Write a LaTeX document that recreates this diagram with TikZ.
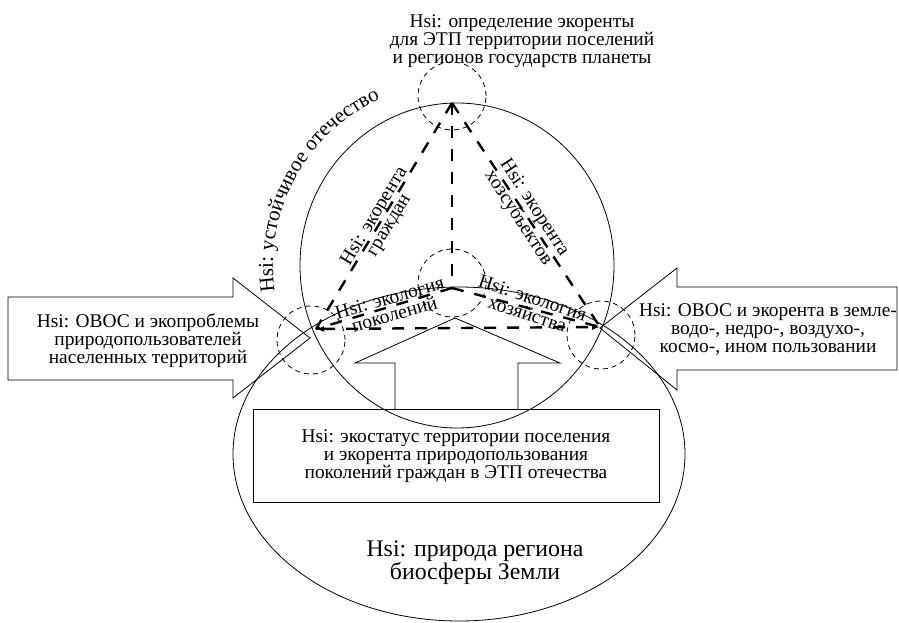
\documentclass[tikz,border=0pt]{standalone}
\usepackage{fontspec}
\setmainfont{Liberation Serif}
\usetikzlibrary{shapes.geometric,arrows.meta,decorations.text}
\begin{document}
\begin{tikzpicture}[x=1pt,y=1pt,
  thinline/.style={line width=0.8pt},
  txt/.style={align=center,inner sep=0pt,font=\fontsize{19.4}{18}\selectfont},
  bigtxt/.style={align=center,inner sep=0pt,font=\fontsize{23.8}{20.5}\selectfont},
  rtxt/.style={align=center,inner sep=0pt,font=\fontsize{19.5}{17}\selectfont},
  dcirc/.style={draw,thinline,dash pattern=on 5pt off 4pt,circle,minimum size=68pt,inner sep=0pt},
  thickdash/.style={line width=2.4pt,dash pattern=on 12pt off 11pt}
]
\useasboundingbox (0,0) rectangle (899,-623);

% big circle and ellipse
\node[draw,thinline,ellipse,inner sep=0pt,minimum width=314pt,minimum height=325pt] (bigc) at (457,-265.5) {};
\node[draw,thinline,ellipse,inner sep=0pt,minimum width=452pt,minimum height=334pt] (bige) at (459,-454) {};

% dashed circles
\node[dcirc] (dtop) at (452,-96) {};
\node[dcirc] (dcen) at (452,-283) {};
\node[dcirc] (dleft) at (311,-340) {};
\node[dcirc] (dright) at (601,-335) {};

% triangle vertices
\coordinate (T) at (452,-103);
\coordinate (C) at (452,-288);
\coordinate (L) at (316,-329);
\coordinate (R) at (600,-327);

\draw[thickdash] (T) -- (L);
\draw[thickdash] (T) -- (R);
\draw[thickdash] (T) -- (C);
\draw[thickdash] (C) -- (L);
\draw[thickdash] (C) -- (R);
\draw[thickdash,{Latex[length=8pt,width=6pt]}-{Latex[length=8pt,width=6pt]}] (L) -- (R);

% left arrow
\draw[thinline] (8,-297) -- (233,-297) -- (233,-278) -- (310,-338) -- (233,-398) -- (233,-380) -- (8,-380) -- cycle;
% right arrow
\draw[thinline] (897,-287) -- (677,-287) -- (677,-268) -- (600,-328) -- (677,-390) -- (677,-370) -- (897,-370) -- cycle;
% up arrow
\draw[thinline] (395,-409) -- (395,-363) -- (355,-363) -- (455,-318) -- (560,-363) -- (518,-363) -- (518,-409);
% box
\node[draw,thinline,minimum width=406pt,minimum height=93pt,inner sep=0pt] (box) at (456,-455.5) {};

% texts
\node[txt] (ttop) at (522,-41) {Hsi: определение экоренты\\для ЭТП территории поселений\\и регионов государств планеты};
\node[txt] (tleft) at (148,-341) {Hsi: ОВОС и экопроблемы\\природопользователей\\населенных территорий};
\node[txt] (tright) at (768,-330) {Hsi: ОВОС и экорента в земле-\\водо-, недро-, воздухо-,\\космо-, ином пользовании};
\node[txt] (tbox) at (456,-456) {Hsi: экостатус территории поселения\\и экорента природопользования\\поколений граждан в ЭТП отечества};
\node[bigtxt] (tbot) at (475,-563) {Hsi: природа региона\\биосферы Земли};

\node[rtxt,rotate=59] (tgr) at (382,-221) {Hsi: экорента\\граждан};
\node[rtxt,rotate=-57] (thz) at (526,-213) {Hsi: экорента\\хозсубъектов};
\node[rtxt,rotate=16] (tpok) at (392,-306) {Hsi: экология\\поколений};
\node[rtxt,rotate=-18] (thoz) at (530,-306) {Hsi: экология\\хозяйства};

\path[decorate,decoration={text along path,text align=left,
  text={|\fontsize{21}{21}\selectfont|Hsi: устойчивое отечество}}]
  (457,-266) ++(188:184) arc[start angle=188,end angle=100,radius=184];
\end{tikzpicture}
\end{document}
